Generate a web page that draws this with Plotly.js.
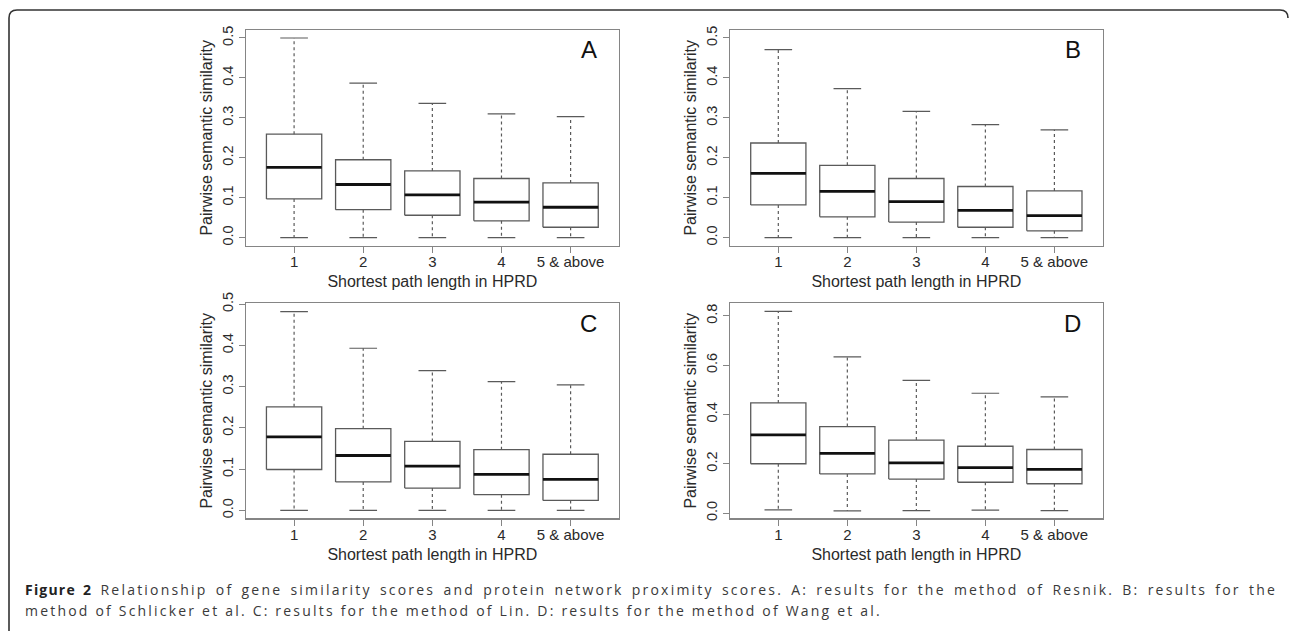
<!DOCTYPE html>
<html>
<head>
<meta charset="utf-8">
<script src="https://cdn.plot.ly/plotly-3.0.1.min.js"></script>
<style>
  html, body { margin: 0; padding: 0; background: #fff; }
  #wrap { position: relative; width: 1292px; height: 631px; overflow: hidden; }
  #chart { width: 1292px; height: 631px; }
  .cap { position: absolute; left: 25px; width: 1252px; font-family: "Open Sans", "Noto Sans", sans-serif;
         font-size: 14px; letter-spacing: 2.2px; color: #3a3a3a; white-space: nowrap; line-height: 20px; }
  #cap1 { top: 580px; text-align: justify; text-align-last: justify; }
  #cap2 { top: 601px; text-align: left; }
  .cap b { color: #222; letter-spacing: 1.2px; }
</style>
</head>
<body>
<div id="wrap">
  <div id="chart"></div>
  <div class="cap" id="cap1"></div>
  <div class="cap" id="cap2"></div>
</div>
<script>
// ---------- data ----------
const categories = ["1", "2", "3", "4", "5 & above"];
const panelLabels = ["A", "B", "C", "D"];

// Panel A: Resnik
const lowerA  = [0.000, 0.000, 0.000, 0.000, 0.000];
const q1A     = [0.097, 0.070, 0.056, 0.042, 0.026];
const medianA = [0.176, 0.133, 0.107, 0.089, 0.076];
const q3A     = [0.259, 0.195, 0.167, 0.148, 0.137];
const upperA  = [0.500, 0.387, 0.336, 0.310, 0.303];

// Panel B: Schlicker et al.
const lowerB  = [0.000, 0.000, 0.000, 0.000, 0.000];
const q1B     = [0.082, 0.052, 0.039, 0.026, 0.017];
const medianB = [0.161, 0.116, 0.090, 0.068, 0.055];
const q3B     = [0.237, 0.181, 0.148, 0.128, 0.117];
const upperB  = [0.471, 0.373, 0.316, 0.283, 0.270];

// Panel C: Lin
const lowerC  = [0.000, 0.000, 0.000, 0.000, 0.000];
const q1C     = [0.099, 0.069, 0.054, 0.038, 0.024];
const medianC = [0.178, 0.133, 0.107, 0.087, 0.075];
const q3C     = [0.251, 0.198, 0.167, 0.147, 0.136];
const upperC  = [0.482, 0.393, 0.339, 0.312, 0.304];

// Panel D: Wang et al.
const lowerD  = [0.013, 0.009, 0.010, 0.012, 0.010];
const q1D     = [0.200, 0.159, 0.138, 0.125, 0.119];
const medianD = [0.317, 0.242, 0.204, 0.184, 0.177];
const q3D     = [0.447, 0.351, 0.296, 0.271, 0.258];
const upperD  = [0.818, 0.634, 0.538, 0.486, 0.471];

const yTickValsABC = [0, 0.1, 0.2, 0.3, 0.4, 0.5];
const yTickTextABC = ["0.0", "0.1", "0.2", "0.3", "0.4", "0.5"];
const yTickValsD   = [0, 0.2, 0.4, 0.6, 0.8];
const yTickTextD   = ["0.0", "0.2", "0.4", "0.6", "0.8"];

const xTitle = "Shortest path length in HPRD";
const yTitle = "Pairwise semantic similarity";
const captionBold = "Figure 2";
const captionLine1 = " Relationship of gene similarity scores and protein network proximity scores. A: results for the method of Resnik. B: results for the";
const captionLine2 = "method of Schlicker et al. C: results for the method of Lin. D: results for the method of Wang et al.";

// ---------- layout helpers ----------
const W = 1292, H = 631;
const px2x = v => v / W;
const px2y = v => 1 - v / H;

const panels = [
  {lower: lowerA, q1: q1A, med: medianA, q3: q3A, upper: upperA, box: [245.7, 619, 30, 245.6],  range: [-0.02, 0.52],   tv: yTickValsABC, tt: yTickTextABC},
  {lower: lowerB, q1: q1B, med: medianB, q3: q3B, upper: upperB, box: [730, 1102.7, 30, 245.6], range: [-0.02, 0.52],   tv: yTickValsABC, tt: yTickTextABC},
  {lower: lowerC, q1: q1C, med: medianC, q3: q3C, upper: upperC, box: [245.7, 619, 303.3, 518.3],  range: [-0.0193, 0.502], tv: yTickValsABC, tt: yTickTextABC},
  {lower: lowerD, q1: q1D, med: medianD, q3: q3D, upper: upperD, box: [730, 1102.7, 303.3, 518.3], range: [-0.0212, 0.851], tv: yTickValsD, tt: yTickTextD}
];

const boxColor = "#5a5a5a";
const axisColor = "#858585";
const textColor = "#2a2a2a";
const fam = "Liberation Sans, Arial, sans-serif";
const xTickFont = {family: fam, size: 15, color: textColor};
const yTickFont = {family: fam, size: 14.5, color: textColor};
const xTitleFont = {family: fam, size: 16, color: textColor};
const yTitleFont = {family: fam, size: 16, color: textColor};
const halfBox = 0.4, halfCap = 0.2;

const traces = [];
const layout = {
  width: W, height: H,
  margin: {l: 0, r: 0, t: 0, b: 0},
  paper_bgcolor: "#ffffff",
  plot_bgcolor: "#ffffff",
  showlegend: false,
  annotations: [],
  shapes: []
};

panels.forEach((p, k) => {
  const sfx = k === 0 ? "" : String(k + 1);
  const xa = "x" + sfx, ya = "y" + sfx;
  const bx = [], by = [], mx = [], my = [], wx = [], wy = [], cx = [], cy = [];
  categories.forEach((c, i) => {
    const pos = i + 1;
    bx.push(pos - halfBox, pos + halfBox, pos + halfBox, pos - halfBox, pos - halfBox, null);
    by.push(p.q1[i], p.q1[i], p.q3[i], p.q3[i], p.q1[i], null);
    mx.push(pos - halfBox, pos + halfBox, null);
    my.push(p.med[i], p.med[i], null);
    wx.push(pos, pos, null, pos, pos, null);
    wy.push(p.q3[i], p.upper[i], null, p.q1[i], p.lower[i], null);
    cx.push(pos - halfCap, pos + halfCap, null, pos - halfCap, pos + halfCap, null);
    cy.push(p.upper[i], p.upper[i], null, p.lower[i], p.lower[i], null);
  });
  traces.push({type: "scatter", mode: "lines", x: wx, y: wy, xaxis: xa, yaxis: ya,
    line: {color: boxColor, width: 1.2, dash: "3px,3px"}, hoverinfo: "skip"});
  traces.push({type: "scatter", mode: "lines", x: cx, y: cy, xaxis: xa, yaxis: ya,
    line: {color: boxColor, width: 1.2}, hoverinfo: "skip"});
  traces.push({type: "scatter", mode: "lines", x: bx, y: by, xaxis: xa, yaxis: ya,
    line: {color: boxColor, width: 1.3}, hoverinfo: "skip"});
  traces.push({type: "scatter", mode: "lines", x: mx, y: my, xaxis: xa, yaxis: ya,
    line: {color: "#111111", width: 2.8}, hoverinfo: "skip"});

  const [x0, x1, y0, y1] = p.box;
  layout["xaxis" + sfx] = {
    domain: [px2x(x0), px2x(x1)], anchor: ya, range: [0.3, 5.7],
    tickvals: [1, 2, 3, 4, 5], ticktext: categories, ticks: "outside", ticklen: 6,
    ticklabelstandoff: -4,
    tickcolor: axisColor, tickwidth: 1, tickfont: xTickFont,
    showline: true, linecolor: axisColor, linewidth: 1.2, mirror: true,
    showgrid: false, zeroline: false, fixedrange: true,
    title: {text: xTitle, font: xTitleFont, standoff: 7}
  };
  layout["yaxis" + sfx] = {
    domain: [px2y(y1), px2y(y0)], anchor: xa, range: p.range,
    tickvals: p.tv, ticktext: p.tt, tickangle: -90, ticks: "outside", ticklen: 6,
    tickcolor: axisColor, tickwidth: 1, tickfont: yTickFont,
    showline: true, linecolor: axisColor, linewidth: 1.2, mirror: true,
    showgrid: false, zeroline: false, fixedrange: true,
    title: {text: yTitle, font: yTitleFont, standoff: 3}
  };
  layout.annotations.push({
    text: panelLabels[k], showarrow: false,
    xref: xa + " domain", yref: ya + " domain", x: 1, y: 1,
    xanchor: "right", yanchor: "middle", xshift: -20, yshift: -20,
    font: {family: fam, size: 24, color: "#111111"}
  });
});

// frame
const fx0 = px2x(9), fx1 = px2x(1288), fyTop = px2y(10), fyBot = px2y(640);
const rdx = 8 / W, rdy = 8 / H;
layout.shapes.push({
  type: "path", xref: "paper", yref: "paper",
  path: `M ${fx0},${fyBot} L ${fx0},${fyTop - rdy} Q ${fx0},${fyTop} ${fx0 + rdx},${fyTop} L ${fx1 - rdx},${fyTop} Q ${fx1},${fyTop} ${fx1},${fyTop - rdy}`,
  line: {color: "#333333", width: 1.6}
});

Plotly.newPlot("chart", traces, layout, {displayModeBar: false, staticPlot: true});

// caption (justified first line, as in the printed figure)
const b = document.createElement("b");
b.textContent = captionBold;
const cap1 = document.getElementById("cap1");
cap1.appendChild(b);
cap1.appendChild(document.createTextNode(captionLine1));
document.getElementById("cap2").textContent = captionLine2;
</script>
</body>
</html>
